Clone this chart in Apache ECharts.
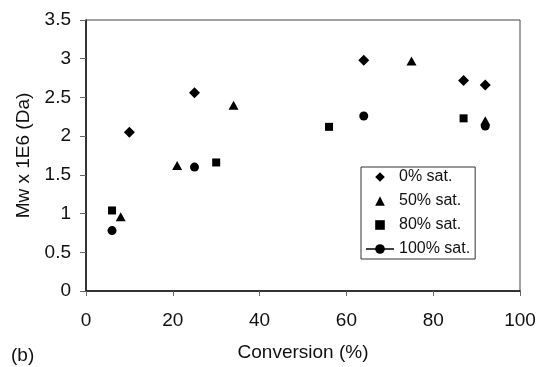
<!DOCTYPE html>
<html>
<head>
<meta charset="utf-8">
<script src="https://cdn.jsdelivr.net/npm/echarts@6/dist/echarts.min.js"></script>
<style>html,body{margin:0;padding:0;background:#fff;}#c{width:540px;height:367px;}</style>
</head>
<body>
<div id="c"></div>
<script>
var seriesNames = ['0% sat.', '50% sat.', '80% sat.', '100% sat.'];
var x0 = [10, 25, 64, 87, 92];
var y0 = [2.05, 2.56, 2.98, 2.72, 2.66];
var x50 = [8, 21, 34, 75, 92];
var y50 = [0.96, 1.62, 2.40, 2.97, 2.20];
var x80 = [6, 30, 56, 87];
var y80 = [1.04, 1.66, 2.12, 2.23];
var x100 = [6, 25, 64, 92];
var y100 = [0.78, 1.60, 2.26, 2.13];
var xTicks = [0, 20, 40, 60, 80, 100];
var yTicks = [0, 0.5, 1, 1.5, 2, 2.5, 3, 3.5];

function pairs(xs, ys) { return xs.map(function (x, i) { return [x, ys[i]]; }); }

var font = 'Liberation Sans, Arial, sans-serif';
function markerSeries(name, symbol, size, xs, ys) {
  return {
    name: name, type: 'line', symbol: symbol, symbolSize: size, showSymbol: true,
    lineStyle: {opacity: 0, color: '#000'}, itemStyle: {color: '#000'},
    emphasis: {disabled: true}, data: pairs(xs, ys)
  };
}
var chart = echarts.init(document.getElementById('c'), null, {renderer: 'canvas'});
chart.setOption({
  animation: false,
  backgroundColor: '#fff',
  grid: {left: 86, top: 20, right: 20, bottom: 74, show: true, borderColor: '#444', borderWidth: 1},
  xAxis: {
    type: 'value', min: xTicks[0], max: xTicks[xTicks.length - 1], interval: 20,
    name: 'Conversion (%)', nameLocation: 'middle', nameGap: 52,
    nameTextStyle: {fontFamily: font, fontSize: 19, color: '#111'},
    axisLine: {show: true, onZero: false, lineStyle: {color: '#111', width: 1.5}},
    axisTick: {show: true, inside: false, length: 5, lineStyle: {color: '#666'}},
    axisLabel: {fontFamily: font, fontSize: 19, color: '#111', margin: 20},
    splitLine: {show: false}
  },
  yAxis: {
    type: 'value', min: yTicks[0], max: yTicks[yTicks.length - 1], interval: 0.5,
    name: 'Mw x 1E6 (Da)', nameLocation: 'middle', nameGap: 53,
    nameTextStyle: {fontFamily: font, fontSize: 19, color: '#111'},
    axisLine: {show: true, onZero: false, lineStyle: {color: '#111', width: 1.5}},
    axisTick: {show: true, inside: false, length: 6, lineStyle: {color: '#666'}},
    axisLabel: {fontFamily: font, fontSize: 19, color: '#111', margin: 15},
    splitLine: {show: false}
  },
  legend: {
    orient: 'vertical', left: 361, top: 167,
    backgroundColor: '#fff', borderColor: '#333', borderWidth: 1,
    padding: [2, 5, 2, 4],
    itemWidth: 28, itemHeight: 12, itemGap: 8,
    textStyle: {fontFamily: font, fontSize: 16, color: '#111'},
    data: [
      {name: seriesNames[0]},
      {name: seriesNames[1]},
      {name: seriesNames[2]},
      {name: seriesNames[3], lineStyle: {opacity: 1, width: 1.5, color: '#000'}}
    ]
  },
  series: [
    markerSeries(seriesNames[0], 'diamond', [11, 11], x0, y0),
    markerSeries(seriesNames[1], 'triangle', [10, 9], x50, y50),
    markerSeries(seriesNames[2], 'rect', 8, x80, y80),
    markerSeries(seriesNames[3], 'circle', 9, x100, y100)
  ],
  graphic: [
    {type: 'text', left: 11, top: 346, style: {text: '(b)', font: '19px ' + font, fill: '#111'}}
  ]
});
</script>
</body>
</html>
